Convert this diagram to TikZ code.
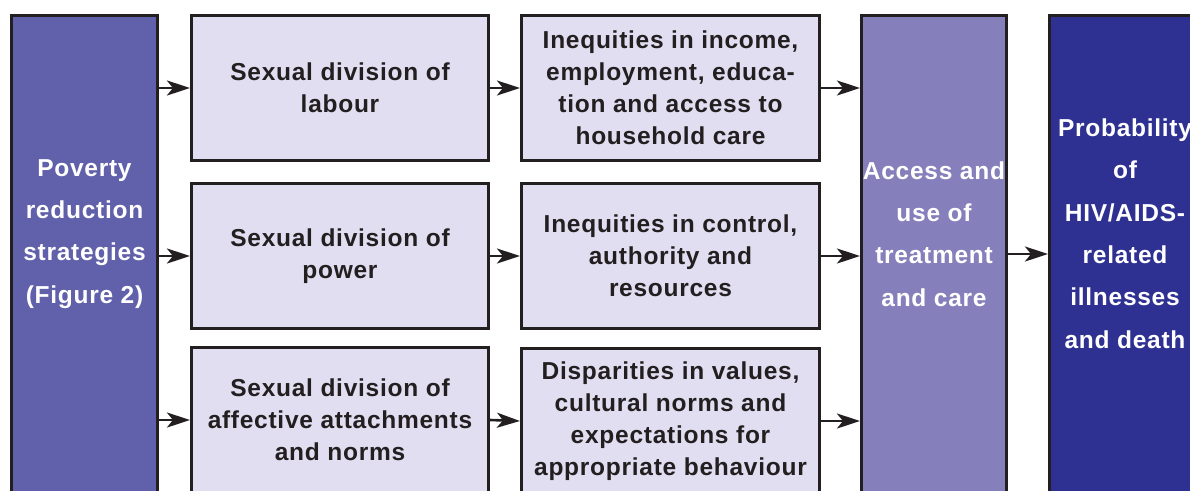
\documentclass[tikz,border=0pt]{standalone}
\usepackage{fontspec}
\setmainfont{Liberation Sans}[LetterSpace=3]
\usetikzlibrary{arrows.meta}
\definecolor{edgegray}{HTML}{231F20}
\definecolor{povfill}{HTML}{6160AA}
\definecolor{midfill}{HTML}{E0DEF0}
\definecolor{accfill}{HTML}{8580BB}
\definecolor{probfill}{HTML}{2E3192}
\tikzset{
  box/.style={draw=edgegray, line width=2.6pt, rectangle, inner sep=0pt},
  midbox/.style={box, fill=midfill, text=edgegray, align=center,
    font=\bfseries\fontsize{24.5}{32}\selectfont},
  tallbox/.style={box},
  talltext/.style={text=white, align=center, inner sep=0pt,
    font=\bfseries\fontsize{24.5}{42.3}\selectfont},
  arr/.style={draw=edgegray, line width=2.6pt,
    -{Stealth[length=23pt, width=15pt, inset=6pt]}},
}
\begin{document}
\begin{tikzpicture}[x=1pt, y=-1pt]
\useasboundingbox (0,0) rectangle (1190,490);
\clip (0,0) rectangle (1190,490);

% tall columns
\node[tallbox, fill=povfill, minimum width=146.5pt, minimum height=477pt] (pov) at (84.5,254) {};
\node[tallbox, fill=accfill, minimum width=145.5pt, minimum height=477pt] (acc) at (934,254) {};
\node[tallbox, fill=probfill, minimum width=151.5pt, minimum height=477pt] (prob) at (1125,254) {};

\node[talltext] (povtext) at (84.5,234) {Poverty\\reduction\\strategies\\(Figure 2)};
\node[talltext] (acctext) at (934,234) {Access and\\use of\\treatment\\and care};
\node[talltext] (probtext) at (1125,233.5) {Probability\\of\\HIV/AIDS-\\related\\illnesses\\and death};

% sexual division column
\node[midbox, minimum width=297.5pt, minimum height=145.5pt] (m1) at (340,88) {Sexual division of\\labour};
\node[midbox, minimum width=297.5pt, minimum height=145.5pt] (m2) at (340,256) {Sexual division of\\power};
\node[midbox, minimum width=297.5pt, minimum height=145.5pt] (m3) at (340,420) {Sexual division of\\affective attachments\\and norms};

% inequities column
\node[midbox, minimum width=298.5pt, minimum height=145.5pt] (r1) at (670.5,88) {Inequities in income,\\employment, educa-\\tion and access to\\household care};
\node[midbox, minimum width=298.5pt, minimum height=145.5pt] (r2) at (670.5,256) {Inequities in control,\\authority and\\resources};
\node[midbox, minimum width=298.5pt, minimum height=145.5pt] (r3) at (670.5,421) {Disparities in values,\\cultural norms and\\expectations for\\appropriate behaviour};

% connectors
\draw[arr] (pov.east |- m1.west) -- (m1.west);
\draw[arr] (pov.east |- m2.west) -- (m2.west);
\draw[arr] (pov.east |- m3.west) -- (m3.west);
\draw[arr] (m1.east) -- (r1.west);
\draw[arr] (m2.east) -- (r2.west);
\draw[arr] (m3.east) -- (r3.west);
\draw[arr] (r1.east) -- (r1.east -| acc.west);
\draw[arr] (r2.east) -- (r2.east -| acc.west);
\draw[arr] (r3.east) -- (r3.east -| acc.west);
\draw[arr] (acc.east) -- (prob.west);
\end{tikzpicture}
\end{document}
